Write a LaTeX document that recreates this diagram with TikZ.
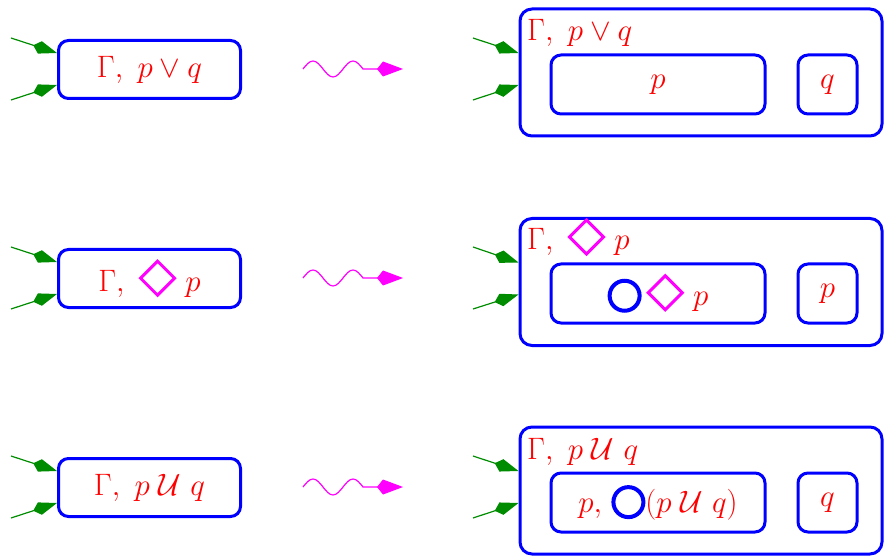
\RequirePackage{fix-cm}
\documentclass[tikz,border=0pt]{standalone}
\usetikzlibrary{arrows.meta}
\definecolor{dgreen}{rgb}{0,0.55,0}
\definecolor{mag}{rgb}{1,0,1}
\definecolor{bl}{rgb}{0,0,1}
\definecolor{rd}{rgb}{1,0,0}
\newcommand\mydia{\tikz[baseline=0pt]\draw[mag,line width=3pt,sharp corners,line join=miter] (0pt,-4pt)--(17pt,13pt)--(0pt,30pt)--(-17pt,13pt)--cycle;}
\newcommand\mycirc{\tikz[baseline=0pt]\draw[bl,line width=4pt] (0pt,10pt) circle[radius=15pt];}
\tikzset{
  bx/.style={draw=bl, line width=3pt, text=rd, inner sep=0pt,
    font=\fontsize{31}{37}\selectfont},
  lbox/.style={bx, rounded corners=10pt, minimum width=182pt, minimum height=58pt},
  rbox/.style={bx, rounded corners=12pt, minimum width=362pt, minimum height=127pt},
  pbox/.style={bx, rounded corners=10pt, minimum width=214pt, minimum height=59pt},
  qbox/.style={bx, rounded corners=10pt, minimum width=59pt, minimum height=59pt},
  lbl/.style={anchor=base west, text=rd, inner sep=0pt, font=\fontsize{31}{37}\selectfont},
  garrow/.style={dgreen, line width=1.2pt, -{Kite[length=25pt,width=13pt,inset=7pt]}},
  squig/.style={mag, line width=1.2pt, -{Kite[length=26pt,width=15pt,inset=6pt]}}
}
\begin{document}
\begin{tikzpicture}[x=1pt,y=-1pt]
\useasboundingbox (0,0) rectangle (884,556);
% ---------- row 1
\node[lbox] (L1) at (149.5,69.5) {$\Gamma,\ p \vee q$};
\node[rbox] (R1) at (701,72.5) {};
\node[pbox] (P1) at (658,84.5) {$p$};
\node[qbox] (Q1) at (827.5,84.5) {$q$};
\node[lbl] (T1) at (527,41) {$\Gamma,\ p \vee q$};
\coordinate (ga1) at (11,38);
\coordinate (gb1) at (11,100);
\coordinate (ha1) at (473,38);
\coordinate (hb1) at (473,100);
\draw[garrow] (ga1) -- ([yshift=16.5pt]L1.west);
\draw[garrow] (gb1) -- ([yshift=-15.5pt]L1.west);
\draw[garrow] (ha1) -- ([yshift=19.5pt]R1.west);
\draw[garrow] (hb1) -- ([yshift=-12.5pt]R1.west);
\coordinate (s1) at (303,69);
\coordinate (e1) at (403,69);
\draw[squig] (s1) sin ++(10,-8) cos ++(10,8) sin ++(10,8) cos ++(10,-8) sin ++(10,-8) cos ++(10,8) -- (e1);
% ---------- row 2
\node[lbox] (L2) at (149.5,278.5) {$\Gamma,\ \,$\mydia$\ p$};
\node[rbox] (R2) at (701,282) {};
\node[pbox] (P2) at (658,293.5) {\mycirc\,\mydia$\ p$};
\node[qbox] (Q2) at (827.5,293.5) {$p$};
\node[lbl] (T2) at (527,250) {$\Gamma,\ \,$\mydia$\ p$};
\coordinate (ga2) at (11,247);
\coordinate (gb2) at (11,309);
\coordinate (ha2) at (473,247);
\coordinate (hb2) at (473,309);
\draw[garrow] (ga2) -- ([yshift=16.5pt]L2.west);
\draw[garrow] (gb2) -- ([yshift=-15.5pt]L2.west);
\draw[garrow] (ha2) -- ([yshift=19.5pt]R2.west);
\draw[garrow] (hb2) -- ([yshift=-12.5pt]R2.west);
\coordinate (s2) at (303,278);
\coordinate (e2) at (403,278);
\draw[squig] (s2) sin ++(10,-8) cos ++(10,8) sin ++(10,8) cos ++(10,-8) sin ++(10,-8) cos ++(10,8) -- (e2);
% ---------- row 3
\node[lbox] (L3) at (149.5,487.5) {$\Gamma,\ p\;\mathcal{U}\ q$};
\node[rbox] (R3) at (701,490.5) {};
\node[pbox] (P3) at (658,502.5) {$p,\ $\mycirc$(p\;\mathcal{U}\ q)$};
\node[qbox] (Q3) at (827.5,502.5) {$q$};
\node[lbl] (T3) at (527,459) {$\Gamma,\ p\;\mathcal{U}\ q$};
\coordinate (ga3) at (11,456);
\coordinate (gb3) at (11,518);
\coordinate (ha3) at (473,456);
\coordinate (hb3) at (473,518);
\draw[garrow] (ga3) -- ([yshift=16.5pt]L3.west);
\draw[garrow] (gb3) -- ([yshift=-15.5pt]L3.west);
\draw[garrow] (ha3) -- ([yshift=19.5pt]R3.west);
\draw[garrow] (hb3) -- ([yshift=-12.5pt]R3.west);
\coordinate (s3) at (303,487);
\coordinate (e3) at (403,487);
\draw[squig] (s3) sin ++(10,-8) cos ++(10,8) sin ++(10,8) cos ++(10,-8) sin ++(10,-8) cos ++(10,8) -- (e3);
\end{tikzpicture}
\end{document}
